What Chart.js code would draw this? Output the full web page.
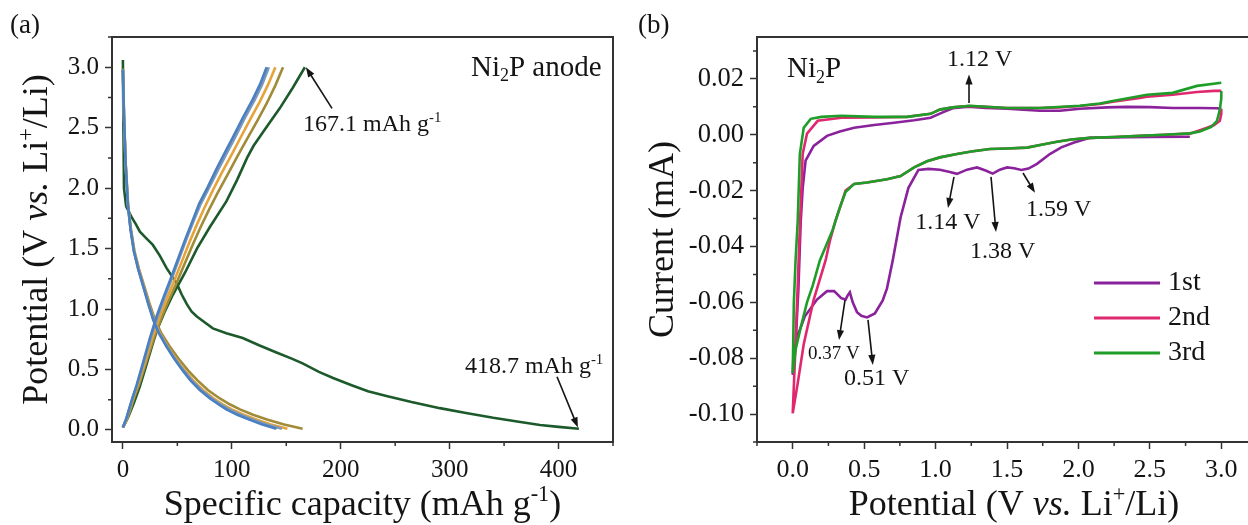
<!DOCTYPE html>
<html><head><meta charset="utf-8">
<script src="https://cdn.jsdelivr.net/npm/chart.js@4.4.0/dist/chart.umd.min.js"></script>
<style>
html,body{margin:0;padding:0;background:#fff;overflow:hidden;width:1248px;height:525px;}
#wrapA{position:absolute;left:0;top:0;width:624px;height:525px;}
#wrapB{position:absolute;left:624px;top:0;width:643px;height:525px;}
canvas{display:block;}
</style></head><body>
<div id="wrapA"><canvas id="cA" width="624" height="525" style="width:624px;height:525px"></canvas></div>
<div id="wrapB"><canvas id="cB" width="643" height="525" style="width:643px;height:525px"></canvas></div>
<script>
// ---------------- Panel (a): galvanostatic charge/discharge [capacity mAh/g, potential V] ----------------
const cycle1Discharge = [[0,3.06],[0.5,2.5],[1,2.0],[3,1.85],[8,1.76],[12,1.70],[15.6,1.64],[22,1.58],[27.5,1.53],[34,1.44],[40,1.34],[49.5,1.21],[54,1.12],[58.7,1.04],[63,0.98],[67.6,0.94],[75,0.89],[82.6,0.84],[95,0.80],[110,0.76],[125,0.70],[141,0.64],[155,0.59],[165,0.55],[180,0.48],[193,0.43],[210,0.37],[225,0.32],[242,0.28],[265,0.23],[291,0.18],[315,0.14],[340,0.10],[362,0.07],[383,0.04],[400,0.025],[418.7,0.01]];
const cycle1Charge = [[0,0.02],[5,0.11],[10,0.22],[15.6,0.36],[20,0.49],[24,0.61],[28,0.73],[32,0.84],[38,0.97],[46,1.12],[57,1.30],[68,1.50],[80,1.68],[95,1.89],[105,2.07],[114,2.25],[120,2.35],[130,2.48],[144,2.66],[156,2.83],[167.1,3.00]];
const cycle2Discharge = [[0,2.99],[1,2.6],[2.6,2.2],[4.8,1.86],[7.4,1.66],[10.6,1.48],[14.8,1.33],[19.6,1.19],[24.3,1.05],[29.5,0.91],[35.3,0.80],[43,0.69],[51,0.59],[60,0.49],[68.5,0.41],[78,0.33],[89,0.26],[98.5,0.21],[107.5,0.17],[119.5,0.125],[133,0.085],[148,0.045],[165,0.01]];
const cycle2Charge = [[0,0.02],[3.5,0.08],[7,0.17],[10.5,0.27],[15,0.38],[21,0.55],[28.5,0.76],[35.5,0.93],[42,1.07],[49,1.21],[56.5,1.37],[64,1.53],[71.5,1.68],[79,1.82],[87,1.96],[96,2.11],[105,2.26],[113,2.39],[123,2.55],[132,2.70],[140,2.85],[147,3.0]];
const cycle3Discharge = [[0,2.98],[1,2.6],[2.5,2.2],[4.7,1.86],[7.2,1.66],[10.3,1.48],[14.4,1.33],[19,1.19],[23.5,1.05],[28.5,0.91],[34,0.80],[41,0.69],[48.5,0.59],[57,0.49],[64.5,0.41],[73.5,0.33],[83.5,0.26],[92,0.21],[100,0.17],[111,0.125],[123,0.085],[136,0.045],[151,0.01]];
const cycle3Charge = [[0,0.02],[3,0.08],[6.5,0.18],[10,0.28],[14,0.38],[20,0.55],[27,0.76],[34,0.94],[40,1.08],[46.5,1.22],[54,1.39],[61,1.55],[68,1.70],[75,1.84],[83,1.99],[91,2.13],[100,2.28],[107,2.40],[117,2.57],[126,2.72],[133.5,2.86],[140,3.0]];
const cycle4Discharge = [[0,2.98],[1,2.6],[2.5,2.2],[4.6,1.86],[7.1,1.66],[10.2,1.48],[14.2,1.33],[18.8,1.19],[23.3,1.05],[28.2,0.91],[33.5,0.80],[40.5,0.69],[47.7,0.59],[56,0.49],[63.2,0.41],[72,0.33],[81.8,0.26],[90,0.21],[97.5,0.17],[108,0.125],[119.5,0.085],[132,0.045],[146,0.01]];
const cycle4Charge = [[0,0.02],[3,0.09],[6,0.18],[9,0.27],[13,0.37],[18.5,0.54],[25.5,0.76],[32,0.94],[38,1.09],[44,1.23],[51,1.40],[58,1.57],[65,1.73],[71.5,1.87],[79.5,2.01],[88,2.16],[96,2.30],[103,2.42],[112,2.58],[121,2.73],[128,2.86],[134,3.0]];
const cycle5Discharge = [[0,2.98],[1,2.6],[2.5,2.2],[4.6,1.86],[7,1.66],[10,1.48],[14,1.33],[18.6,1.19],[23,1.05],[27.8,0.91],[33,0.80],[40,0.69],[47,0.59],[55,0.49],[62,0.41],[70.6,0.33],[80,0.26],[88,0.21],[95,0.17],[105,0.125],[116,0.085],[128,0.045],[141,0.01]];
const cycle5Charge = [[0,0.02],[3,0.09],[6,0.18],[9,0.27],[12.6,0.37],[18,0.54],[24.8,0.76],[31,0.94],[37,1.09],[43,1.23],[50,1.40],[57,1.57],[64,1.73],[70,1.87],[78,2.01],[86,2.16],[94,2.30],[101,2.42],[110,2.58],[119,2.73],[126,2.86],[132,3.0]];
const capMajorTicks = [0,100,200,300,400];
const capMinorTicks = [50,150,250,350,450];
const potMajorTicksA = [0,0.5,1.0,1.5,2.0,2.5,3.0];
const potMinorTicksA = [0.25,0.75,1.25,1.75,2.25,2.75,3.25];
const firstCharge = 167.1, firstDischarge = 418.7;

// ---------------- Panel (b): cyclic voltammetry [potential V, current mA] ----------------
const cv1st = [[2.78,-0.0007],[2.5,-0.0008],[2.2,-0.0010],[2.08,-0.0011],[1.97,-0.0028],[1.88,-0.0045],[1.80,-0.0069],[1.71,-0.0104],[1.65,-0.0121],[1.60,-0.0126],[1.55,-0.0120],[1.50,-0.0117],[1.45,-0.0125],[1.40,-0.0139],[1.35,-0.0128],[1.29,-0.0117],[1.22,-0.0125],[1.15,-0.0140],[1.10,-0.0133],[1.03,-0.0125],[0.95,-0.0122],[0.88,-0.0126],[0.81,-0.019],[0.755,-0.0296],[0.70,-0.045],[0.66,-0.055],[0.63,-0.0593],[0.575,-0.064],[0.52,-0.0654],[0.48,-0.0648],[0.45,-0.0635],[0.42,-0.060],[0.40,-0.0564],[0.385,-0.0575],[0.37,-0.059],[0.34,-0.0585],[0.29,-0.056],[0.24,-0.056],[0.17,-0.059],[0.085,-0.065],[0.03,-0.0725],[0.005,-0.079],[0.0,-0.086],[0.02,-0.075],[0.04,-0.055],[0.056,-0.031],[0.07,-0.019],[0.09,-0.0093],[0.147,-0.004],[0.24,-0.0004],[0.33,0.0012],[0.43,0.0025],[0.57,0.0035],[0.71,0.0043],[0.85,0.0052],[0.965,0.0061],[1.05,0.0080],[1.12,0.0095],[1.23,0.0100],[1.35,0.0096],[1.50,0.0093],[1.73,0.0086],[1.87,0.0086],[2.01,0.0093],[2.20,0.0098],[2.34,0.0100],[2.50,0.0099],[2.66,0.0096],[2.85,0.0096],[2.97,0.0095],[3.0,0.0093]];
const cv2nd = [[3.0,0.0093],[3.0,0.0075],[2.99,0.005],[2.95,0.0035],[2.9,0.0025],[2.78,0.0004],[2.6,0.0],[2.43,-0.0004],[2.25,-0.0008],[2.08,-0.0011],[1.95,-0.0017],[1.85,-0.0025],[1.75,-0.0035],[1.64,-0.0046],[1.50,-0.0049],[1.38,-0.0051],[1.25,-0.0060],[1.15,-0.0069],[1.03,-0.0081],[0.94,-0.0095],[0.85,-0.0117],[0.755,-0.0148],[0.66,-0.0159],[0.52,-0.0171],[0.43,-0.0176],[0.37,-0.020],[0.34,-0.0247],[0.30,-0.0307],[0.26,-0.038],[0.23,-0.045],[0.147,-0.059],[0.077,-0.075],[0.035,-0.089],[0.0,-0.0997],[0.02,-0.075],[0.045,-0.04],[0.06,-0.02],[0.07,-0.0068],[0.1,0.0004],[0.175,0.005],[0.34,0.0061],[0.57,0.0062],[0.80,0.0064],[0.965,0.0075],[1.03,0.0090],[1.12,0.0098],[1.23,0.0103],[1.35,0.0100],[1.50,0.0096],[1.73,0.0096],[1.87,0.0098],[2.01,0.0103],[2.15,0.0110],[2.24,0.0118],[2.43,0.0132],[2.48,0.0136],[2.66,0.0143],[2.83,0.0153],[2.95,0.0157],[3.0,0.0157]];
const cv3rd = [[3.0,0.0157],[3.0,0.013],[2.99,0.009],[2.97,0.005],[2.93,0.0028],[2.85,0.0012],[2.78,0.0005],[2.6,0.0],[2.43,-0.0004],[2.25,-0.0008],[2.08,-0.0011],[1.95,-0.0017],[1.85,-0.0025],[1.75,-0.0035],[1.64,-0.0046],[1.50,-0.0049],[1.38,-0.0051],[1.25,-0.0060],[1.15,-0.0069],[1.03,-0.0081],[0.94,-0.0095],[0.85,-0.0117],[0.755,-0.0148],[0.66,-0.0159],[0.52,-0.0171],[0.43,-0.0176],[0.37,-0.0205],[0.33,-0.026],[0.28,-0.034],[0.19,-0.045],[0.14,-0.054],[0.1,-0.060],[0.056,-0.069],[0.02,-0.077],[0.0,-0.0853],[0.008,-0.06],[0.02,-0.045],[0.035,-0.031],[0.05,-0.0068],[0.077,0.0025],[0.126,0.0057],[0.2,0.0064],[0.34,0.0068],[0.57,0.0064],[0.80,0.0064],[0.965,0.0075],[1.03,0.0090],[1.12,0.0098],[1.24,0.0104],[1.35,0.0100],[1.50,0.0096],[1.73,0.0096],[2.01,0.0104],[2.15,0.0112],[2.24,0.0121],[2.48,0.0143],[2.66,0.0150],[2.83,0.0175],[3.0,0.0186]];
const cvLabels = ['1st','2nd','3rd'];
const voltMajorTicks = [0,0.5,1.0,1.5,2.0,2.5,3.0];
const voltMinorTicks = [-0.25,0.25,0.75,1.25,1.75,2.25,2.75,3.25];
const currMajorTicks = [0.02,0,-0.02,-0.04,-0.06,-0.08,-0.10];
const currMinorTicks = [0.03,0.01,-0.01,-0.03,-0.05,-0.07,-0.09,-0.11];
const peakLabels = ['1.12 V','1.14 V','1.38 V','1.59 V','0.37 V','0.51 V'];

// ---------------- drawing helpers ----------------
const FONT = '"Liberation Serif","Times New Roman",serif';
const INK = '#141414', AXIS = '#333';
const toXY = arr => arr.map(p => ({x: p[0], y: p[1]}));

function rich(ctx, parts, x, y, size, align) {
  const segs = parts.map(p => {
    const s = (p.sup || p.sub) ? size * 0.62 : size;
    const font = (p.it ? 'italic ' : '') + s + 'px ' + FONT;
    ctx.font = font;
    return {t: p.t, font, w: ctx.measureText(p.t).width, dy: p.sup ? -size * 0.38 : (p.sub ? size * 0.2 : 0)};
  });
  const total = segs.reduce((a, s) => a + s.w, 0);
  let cx = align === 'center' ? x - total / 2 : (align === 'right' ? x - total : x);
  ctx.textAlign = 'left'; ctx.textBaseline = 'alphabetic'; ctx.fillStyle = INK;
  segs.forEach(s => { ctx.font = s.font; ctx.fillText(s.t, cx, y + s.dy); cx += s.w; });
}
function arrow(ctx, x1, y1, x2, y2) {
  const a = Math.atan2(y2 - y1, x2 - x1), L = 10, W = 3.6;
  ctx.save();
  ctx.strokeStyle = INK; ctx.fillStyle = INK; ctx.lineWidth = 1.6;
  ctx.beginPath(); ctx.moveTo(x1, y1); ctx.lineTo(x2 - Math.cos(a) * L * 0.8, y2 - Math.sin(a) * L * 0.8); ctx.stroke();
  ctx.beginPath();
  ctx.moveTo(x2, y2);
  ctx.lineTo(x2 - Math.cos(a) * L + Math.sin(a) * W, y2 - Math.sin(a) * L - Math.cos(a) * W);
  ctx.lineTo(x2 - Math.cos(a) * L - Math.sin(a) * W, y2 - Math.sin(a) * L + Math.cos(a) * W);
  ctx.closePath(); ctx.fill();
  ctx.restore();
}
function frameAndMinor(chart, xMinor, yMinor, drawRight) {
  const {ctx, chartArea: ca, scales} = chart;
  ctx.save();
  ctx.strokeStyle = AXIS; ctx.lineWidth = 2;
  ctx.beginPath(); ctx.moveTo(ca.left - 1, ca.top); ctx.lineTo(ca.right, ca.top);
  if (drawRight) ctx.lineTo(ca.right, ca.bottom);
  ctx.stroke();
  ctx.lineWidth = 1.5;
  ctx.beginPath();
  xMinor.forEach(v => { const px = scales.x.getPixelForValue(v); ctx.moveTo(px, ca.bottom); ctx.lineTo(px, ca.bottom + 4); });
  yMinor.forEach(v => { const py = scales.y.getPixelForValue(v); ctx.moveTo(ca.left - 4, py); ctx.lineTo(ca.left, py); });
  ctx.stroke();
  ctx.restore();
}
function axisCfg(min, max, ticksArr, fmt, fit, fsize) {
  return {
    type: 'linear', min, max,
    afterBuildTicks: s => { s.ticks = ticksArr.map(v => ({value: v})); },
    afterFit: fit,
    ticks: {font: {family: FONT, size: fsize}, color: INK, padding: 6, autoSkip: false, maxRotation: 0, callback: fmt},
    grid: {display: true, drawOnChartArea: false, drawTicks: true, tickLength: 7, tickWidth: 1.5, tickColor: AXIS},
    border: {display: true, color: AXIS, width: 2}
  };
}
const lineDs = (data, color, w) => ({data: toXY(data), borderColor: color, backgroundColor: color, borderWidth: w || 2.6, showLine: true, pointRadius: 0, tension: 0, fill: false});

// ---------------- Panel (a) ----------------
const C = {c1: '#1d5a2b', c2: '#a08b38', c3: '#e6a33a', c4: '#7e9ab8', c5: '#4a7fc1'};
const pluginA = {
  id: 'decorA',
  afterDraw(chart) {
    const {ctx, chartArea: ca, scales: {x, y}} = chart;
    frameAndMinor(chart, capMinorTicks, potMinorTicksA, true);
    ctx.save();
    rich(ctx, [{t: 'Ni'}, {t: '2', sub: true}, {t: 'P anode'}], x.getPixelForValue(319.6), y.getPixelForValue(2.93), 29, 'left');
    rich(ctx, [{t: firstCharge.toFixed(1) + ' mAh g'}, {t: '-1', sup: true}], x.getPixelForValue(165.4), y.getPixelForValue(2.47), 24, 'left');
    arrow(ctx, x.getPixelForValue(192), y.getPixelForValue(2.66), x.getPixelForValue(firstCharge) + 1, y.getPixelForValue(3.0));
    rich(ctx, [{t: firstDischarge.toFixed(1) + ' mAh g'}, {t: '-1', sup: true}], x.getPixelForValue(314), y.getPixelForValue(0.47), 24, 'left');
    arrow(ctx, x.getPixelForValue(398.6), y.getPixelForValue(0.44), x.getPixelForValue(firstDischarge) - 1, y.getPixelForValue(0.02));
    rich(ctx, [{t: 'Specific capacity (mAh g'}, {t: '-1', sup: true}, {t: ')'}], (ca.left + ca.right) / 2, 515, 36, 'center');
    ctx.translate(47, (ca.top + ca.bottom) / 2); ctx.rotate(-Math.PI / 2);
    rich(ctx, [{t: 'Potential (V '}, {t: 'vs.', it: true}, {t: ' Li'}, {t: '+', sup: true}, {t: '/Li)'}], 0, 0, 36, 'center');
    ctx.restore();
    ctx.save();
    rich(ctx, [{t: '(a)'}], 10, 33, 27, 'left');
    ctx.restore();
  }
};
new Chart(document.getElementById('cA'), {
  type: 'scatter',
  data: {datasets: [
    lineDs(cycle5Charge, C.c5), lineDs(cycle5Discharge, C.c5),
    lineDs(cycle4Charge, C.c4), lineDs(cycle4Discharge, C.c4),
    lineDs(cycle3Charge, C.c3), lineDs(cycle3Discharge, C.c3),
    lineDs(cycle2Charge, C.c2), lineDs(cycle2Discharge, C.c2),
    lineDs(cycle1Charge, C.c1), lineDs(cycle1Discharge, C.c1)
  ]},
  options: {
    responsive: false, animation: false, devicePixelRatio: 1,
    layout: {padding: {top: 37, right: 11, left: 0, bottom: 0}},
    plugins: {legend: {display: false}, tooltip: {enabled: false}},
    scales: {
      x: axisCfg(-10, 450, capMajorTicks, v => String(v), s => { s.height = 83; }, 25),
      y: axisCfg(-0.1, 3.25, potMajorTicksA, v => Number(v).toFixed(1), s => { s.width = 112; }, 25)
    }
  },
  plugins: [pluginA]
});

// ---------------- Panel (b) ----------------
const CV = ['#8a229c', '#e0286f', '#1e9e28'];
const pluginB = {
  id: 'decorB',
  afterDraw(chart) {
    const {ctx, chartArea: ca, scales: {x, y}} = chart;
    frameAndMinor(chart, voltMinorTicks, currMinorTicks, true);
    ctx.save();
    rich(ctx, [{t: 'Ni'}, {t: '2', sub: true}, {t: 'P'}], x.getPixelForValue(-0.04), y.getPixelForValue(0.0207), 29, 'left');
    const P = (vx, vy) => [x.getPixelForValue(vx), y.getPixelForValue(vy)];
    const notes = [
      {txt: peakLabels[0], at: [1.08, 0.0246], size: 24, from: [1.234, 0.0114], to: [1.234, 0.0216]},
      {txt: peakLabels[1], at: [0.858, -0.0337], size: 24, from: [1.129, -0.0151], to: [1.087, -0.0262]},
      {txt: peakLabels[2], at: [1.241, -0.0441], size: 24, from: [1.388, -0.0151], to: [1.423, -0.0348]},
      {txt: peakLabels[3], at: [1.633, -0.0291], size: 24, from: [1.612, -0.0137], to: [1.696, -0.0208]},
      {txt: peakLabels[4], at: [0.107, -0.0803], size: 19, from: [0.366, -0.0592], to: [0.324, -0.0735]},
      {txt: peakLabels[5], at: [0.359, -0.0896], size: 24, from: [0.527, -0.0663], to: [0.561, -0.0824]}
    ];
    notes.forEach(n => {
      const [tx, ty] = P(n.at[0], n.at[1]);
      rich(ctx, [{t: n.txt}], tx, ty, n.size, 'left');
      const [ax, ay] = P(n.from[0], n.from[1]); const [bx, by] = P(n.to[0], n.to[1]);
      arrow(ctx, ax, ay, bx, by);
    });
    cvLabels.forEach((lab, i) => {
      const ly = 283 + i * 35;
      ctx.strokeStyle = CV[i]; ctx.lineWidth = 3;
      ctx.beginPath(); ctx.moveTo(1094 - 624, ly); ctx.lineTo(1160 - 624, ly); ctx.stroke();
      ctx.fillStyle = INK; ctx.font = '28px ' + FONT; ctx.textAlign = 'left'; ctx.textBaseline = 'middle';
      ctx.fillText(lab, 1168 - 624, ly);
    });
    rich(ctx, [{t: 'Potential (V '}, {t: 'vs.', it: true}, {t: ' Li'}, {t: '+', sup: true}, {t: '/Li)'}], 1014 - 624, 515, 36, 'center');
    ctx.translate(673 - 624, (ca.top + ca.bottom) / 2); ctx.rotate(-Math.PI / 2);
    rich(ctx, [{t: 'Current (mA)'}], 0, 0, 36, 'center');
    ctx.restore();
    ctx.save();
    rich(ctx, [{t: '(b)'}], 638 - 624, 33, 27, 'left');
    ctx.restore();
  }
};
new Chart(document.getElementById('cB'), {
  type: 'scatter',
  data: {datasets: [
    Object.assign(lineDs(cv3rd, CV[2], 2.6), {label: cvLabels[2]}),
    Object.assign(lineDs(cv2nd, CV[1], 2.6), {label: cvLabels[1]}),
    Object.assign(lineDs(cv1st, CV[0], 2.6), {label: cvLabels[0]})
  ]},
  options: {
    responsive: false, animation: false, devicePixelRatio: 1,
    layout: {padding: {top: 37, right: 10, left: 0, bottom: 0}},
    plugins: {legend: {display: false}, tooltip: {enabled: false}},
    scales: {
      x: axisCfg(-0.25, 3.25, voltMajorTicks, v => Number(v).toFixed(1), s => { s.height = 83; }, 26),
      y: axisCfg(-0.11, 0.035, currMajorTicks, v => Number(v).toFixed(2), s => { s.width = 133; }, 26.5)
    }
  },
  plugins: [pluginB]
});
</script>
</body></html>
